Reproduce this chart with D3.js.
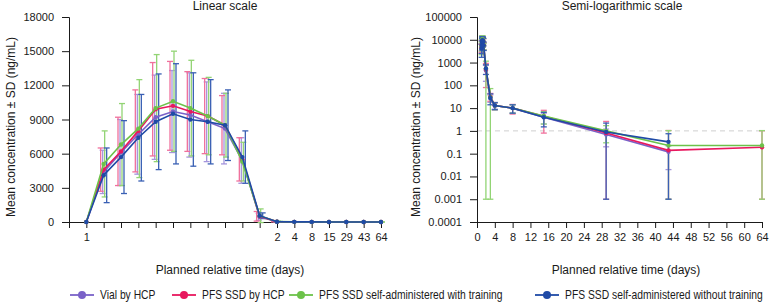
<!DOCTYPE html>
<html>
<head>
<meta charset="utf-8">
<script src="https://cdn.jsdelivr.net/npm/d3@7/dist/d3.min.js"></script>
<style>
body { margin: 0; background: #fff; }
svg text { font-family: "Liberation Sans", Arial, sans-serif; fill: #1a1a1a; }
.axis path, .axis line { stroke: #1a1a1a; }
</style>
</head>
<body>
<svg id="chart" width="780" height="308"></svg>
<script>
// sampling points: left axis labels (categorical) and actual day for the log plot
var tickLabels = ["1", "", "", "", "", "", "", "", "", "", "", "2", "4", "8", "15", "29", "43", "64"];
var days = [1, 1.04, 1.08, 1.13, 1.17, 1.21, 1.25, 1.33, 1.42, 1.5, 2, 3, 4, 8, 15, 29, 43, 64];

var seriesNames = ["Vial by HCP", "PFS SSD by HCP", "PFS SSD self-administered with training", "PFS SSD self-administered without training"];
var seriesColors = ["#7a62c8", "#e8185e", "#6cc24a", "#1f4aa6"];
var errColors = ["#a595dc", "#f0709c", "#92d474", "#3a60b4"];

// mean concentration (ng/mL)
var vialMean = [0, 4400, 6100, 7700, 9200, 9700, 9400, 8800, 8200, 5400, 450, 28, 13, 10, 4, 0.7, 0.12, 0];
var pfsHcpMean = [0, 4600, 6200, 8000, 9900, 10200, 9700, 9300, 8500, 5500, 500, 32, 13, 10, 4.4, 0.8, 0.14, 0.19];
var pfsTrainMean = [0, 5100, 6800, 8200, 10000, 10600, 10000, 9300, 8500, 5300, 550, 30, 13, 10, 4.5, 1.0, 0.23, 0.23];
var pfsNoTrainMean = [0, 4100, 5700, 7400, 8800, 9500, 9000, 8800, 8500, 5700, 550, 28, 13, 10, 4, 0.9, 0.33, 0];

// standard deviations
var vialSd = [0, 1900, 2900, 3500, 3700, 3600, 3700, 3500, 3100, 2000, 300, 10, 4, 4, 2, 0.5, 0.1, 0];
var pfsHcpSd = [0, 1900, 3000, 3600, 4100, 3900, 3500, 3300, 2600, 1900, 420, 12, 4.5, 4.5, 3.6, 1.8, 0.9, 0.82];
var pfsTrainSd = [0, 2900, 3600, 4300, 4700, 4400, 4200, 3400, 2800, 1700, 600, 42, 4.5, 4, 2.5, 0.7, 0.8, 0.8];
var pfsNoTrainSd = [0, 2400, 3200, 3800, 4200, 4400, 4100, 3700, 3100, 2300, 250, 14, 4.5, 4, 2.5, 1.3, 0.42, 0];

var linTicks = [0, 3000, 6000, 9000, 12000, 15000, 18000];
var logTicks = [0.0001, 0.001, 0.01, 0.1, 1, 10, 100, 1000, 10000, 100000];
var dayTicks = d3.range(0, 65, 4);

var means = [vialMean, pfsHcpMean, pfsTrainMean, pfsNoTrainMean],
    sds = [vialSd, pfsHcpSd, pfsTrainSd, pfsNoTrainSd],
    dodge = [-1, -3, 1, 3];   // small horizontal offset of the error bars on the linear panel

var svg = d3.select("#chart");

var series = seriesNames.map(function (name, s) {
    return {
        name: name, color: seriesColors[s], errColor: errColors[s], dx: dodge[s],
        pts: means[s].map(function (m, i) { return {i: i, day: days[i], mean: m, sd: sds[s][i]}; })
    };
});

//----- linear panel
var xL = d3.scaleLinear().domain([-1, 17]).range([69, 381]),
    yL = d3.scaleLinear().domain([0, 18000]).range([222, 17]);

svg.append("g").attr("class", "axis").attr("transform", "translate(0,222)")
    .call(d3.axisBottom(xL).tickValues(d3.range(-1, 18)).tickSizeOuter(0).tickSize(6).tickPadding(5)
        .tickFormat(function (i) { return i < 0 ? "" : tickLabels[i]; }))
    .selectAll("text").style("font-size", "11px");
svg.append("g").attr("class", "axis").attr("transform", "translate(69,0)")
    .call(d3.axisLeft(yL).tickValues(linTicks).tickSizeOuter(0).tickSize(7).tickPadding(8).tickFormat(d3.format("d")))
    .selectAll("text").style("font-size", "11px");

drawPanel(xL, yL, function (d) { return d.i; }, function (d) { return d.mean - d.sd; }, function () { return true; }, true);

//----- semi-log panel
var xR = d3.scaleLinear().domain([0, 64]).range([477, 762]),
    yR = d3.scaleLog().domain([0.0001, 100000]).range([222, 17]);

svg.append("line")
    .attr("x1", xR(0)).attr("x2", xR(64)).attr("y1", yR(1)).attr("y2", yR(1))
    .attr("stroke", "#cfcfcf").attr("stroke-dasharray", "5,4");

svg.append("g").attr("class", "axis").attr("transform", "translate(0,222)")
    .call(d3.axisBottom(xR).tickValues(dayTicks).tickSizeOuter(0).tickSize(6).tickPadding(5))
    .selectAll("text").style("font-size", "11px");
svg.append("g").attr("class", "axis").attr("transform", "translate(477,0)")
    .call(d3.axisLeft(yR).tickValues(logTicks).tickSizeOuter(0).tickSize(7).tickPadding(8)
        .tickFormat(function (d) { return d < 1 ? String(d) : d3.format("d")(d); }))
    .selectAll("text").style("font-size", "11px");

// lower bound below zero is clipped to 0.001 on the log axis
drawPanel(xR, yR, function (d) { return d.day; },
    function (d) { return d.mean - d.sd > 0 ? d.mean - d.sd : 0.001; },
    function (d) { return d.mean > 0; }, false);

function drawPanel(x, y, xv, lowv, ok, useDodge) {
    series.forEach(function (s) {   // error bars first
        var g = svg.append("g").attr("stroke", s.errColor).attr("stroke-width", 1.3);
        s.pts.filter(function (d) { return ok(d) && d.sd > 0; }).forEach(function (d) {
            var cx = x(xv(d)) + (useDodge ? s.dx : 0),
                y0 = y(lowv(d)), y1 = y(d.mean + d.sd);
            g.append("line").attr("x1", cx).attr("x2", cx).attr("y1", y0).attr("y2", y1);
            g.append("line").attr("x1", cx - 3).attr("x2", cx + 3).attr("y1", y0).attr("y2", y0);
            g.append("line").attr("x1", cx - 3).attr("x2", cx + 3).attr("y1", y1).attr("y2", y1);
        });
    });
    series.forEach(function (s) {
        var pts = s.pts.filter(ok);
        svg.append("path").datum(pts)
            .attr("fill", "none").attr("stroke", s.color).attr("stroke-width", 1.6)
            .attr("d", d3.line().x(function (d) { return x(xv(d)); }).y(function (d) { return y(d.mean); }));
        svg.append("g").selectAll("circle").data(pts).enter().append("circle")
            .attr("cx", function (d) { return x(xv(d)); })
            .attr("cy", function (d) { return y(d.mean); })
            .attr("r", 2.2).attr("fill", s.color);
    });
}

//----- titles
svg.append("text").attr("x", 225).attr("y", 10).attr("text-anchor", "middle").style("font-size", "12px").text("Linear scale");
svg.append("text").attr("x", 622).attr("y", 10).attr("text-anchor", "middle").style("font-size", "12px").text("Semi-logarithmic scale");
[230, 626].forEach(function (cx) {
    svg.append("text").attr("x", cx).attr("y", 274).attr("text-anchor", "middle").style("font-size", "12px")
        .text("Planned relative time (days)");
});
[15, 420].forEach(function (cx) {
    svg.append("text").attr("transform", "translate(" + cx + ",127) rotate(-90)").attr("text-anchor", "middle")
        .style("font-size", "12px").text("Mean concentration \u00b1 SD (ng/mL)");
});

//----- legend (condensed text)
var legendX = [70, 172, 289, 535];
var legend = svg.append("g").selectAll("g").data(series).enter().append("g")
    .attr("transform", function (d, i) { return "translate(" + legendX[i] + ",295)"; });
legend.append("line").attr("x1", 0).attr("x2", 24).attr("stroke", function (d) { return d.color; }).attr("stroke-width", 1.8);
legend.append("circle").attr("cx", 12).attr("r", 4).attr("fill", function (d) { return d.color; });
legend.append("text").attr("transform", "translate(30,0) scale(0.86,1)").attr("dy", "0.35em")
    .style("font-size", "12px")
    .text(function (d) { return d.name; });
</script>
</body>
</html>
